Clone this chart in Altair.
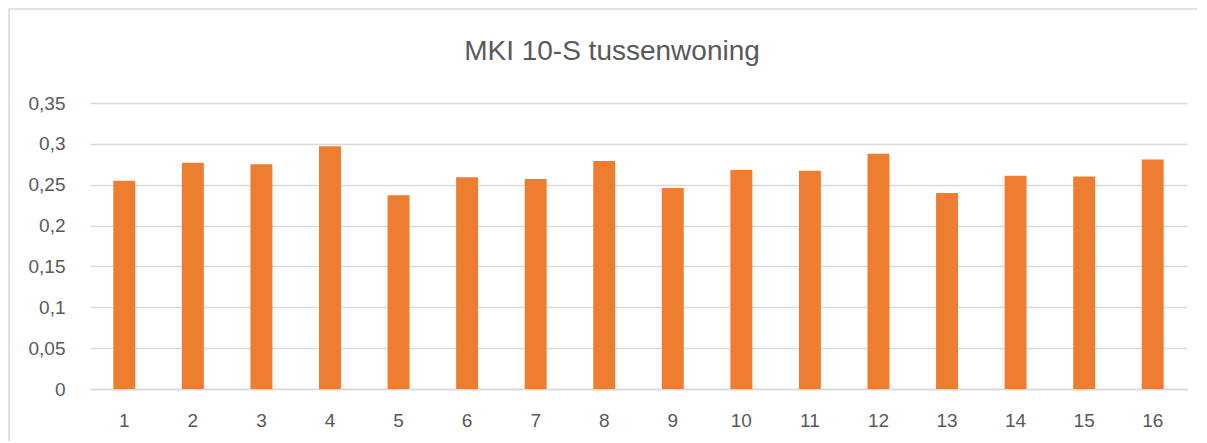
import altair as alt
import pandas as pd

categories = [str(i) for i in range(1, 17)]
values = [0.255, 0.277, 0.275, 0.297, 0.237, 0.259, 0.257, 0.279,
          0.246, 0.268, 0.267, 0.288, 0.240, 0.261, 0.260, 0.281]
y_ticks = [0, 0.05, 0.1, 0.15, 0.2, 0.25, 0.3, 0.35]
title_text = "MKI 10-S tussenwoning"

df = pd.DataFrame({"cat": categories, "val": values})

FONT = "Liberation Sans"
GREY = "#595959"

one = pd.DataFrame({"a": [0]})

border = alt.Chart(one).mark_rect(
    fill=None, stroke="#d9d9d9", strokeWidth=1.5, clip=False
).encode(
    x=alt.value(-81), x2=alt.value(1112), y=alt.value(-94), y2=alt.value(360)
)

title = alt.Chart(one).mark_text(
    text=title_text, fontSize=28, font=FONT, color=GREY, align="center",
    baseline="alphabetic", clip=False
).encode(x=alt.value(522), y=alt.value(-43))

bars = alt.Chart(df).mark_bar(color="#ED7D31", clip=False).encode(
    x=alt.X("cat:N", sort=categories, title=None,
            scale=alt.Scale(paddingInner=0.68, paddingOuter=0.34),
            axis=alt.Axis(labelAngle=0, ticks=False, domain=True, domainColor="#d9d9d9",
                          domainWidth=1.5, labelPadding=22, labelFontSize=19,
                          labelColor=GREY, labelFont=FONT, grid=False)),
    y=alt.Y("val:Q", title=None,
            scale=alt.Scale(domain=[0, 0.35], nice=False),
            axis=alt.Axis(values=y_ticks, ticks=False, domain=False, grid=True,
                          gridColor="#d9d9d9", gridWidth=1.5, labelPadding=25,
                          labelFontSize=19, labelColor=GREY, labelFont=FONT,
                          labelExpr="replace(format(datum.value, ''), '.', ',')")),
)

chart = alt.layer(border, bars, title).properties(
    width=1097, height=286,
    autosize=alt.AutoSizeParams(type="none"),
    padding={"left": 82, "top": 95, "right": 10, "bottom": 52},
).configure_view(stroke=None)

chart.save("out.html", embed_options={"renderer": "svg", "actions": False})
